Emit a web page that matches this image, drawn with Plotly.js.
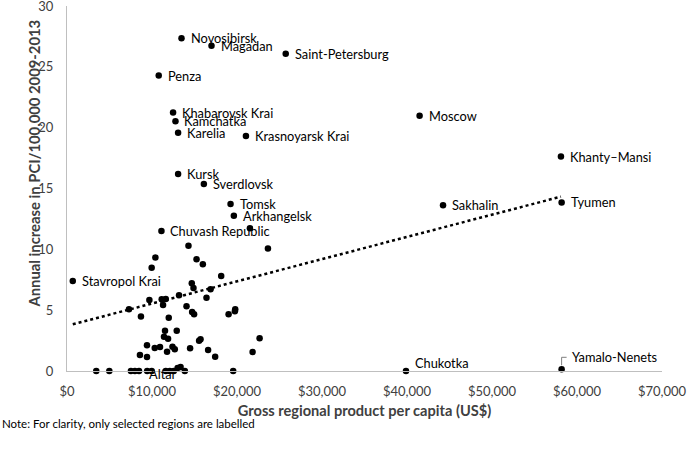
<!DOCTYPE html>
<html>
<head>
<meta charset="utf-8">
<script src="https://cdn.plot.ly/plotly-3.0.1.min.js"></script>
<style>
html,body{margin:0;padding:0;background:#fff;}
#chart{width:694px;height:459px;}
</style>
</head>
<body>
<div id="chart"></div>
<script>
// Labelled regions
const labelNames = ["Novosibirsk","Magadan","Saint-Petersburg","Penza","Khabarovsk Krai","Kamchatka","Karelia","Krasnoyarsk Krai","Moscow","Khanty\u2013Mansi","Sakhalin","Tyumen","Kursk","Sverdlovsk","Tomsk","Arkhangelsk","Chuvash Republic","Stavropol Krai","Chukotka","Yamalo-Nenets","Altai"];
const labelGRP = [13470,17000,25730,10790,12480,12760,13070,21050,41480,58110,44240,58190,13070,16100,19240,19630,11110,680,39880,58190,8470];
const labelPCI = [27.35,26.73,26.07,24.28,21.24,20.53,19.59,19.32,20.97,17.62,13.63,13.85,16.2,15.38,13.73,12.77,11.5,7.4,0,0.14,0];

// Unlabelled regions
const otherGRP = [21520,14290,23640,10400,9960,15240,15980,18140,14680,14880,16890,13180,9690,11140,11620,16410,11300,14060,7290,14720,14950,8700,11970,19790,19750,19010,11530,12910,11410,11890,22660,9410,10320,10940,12410,12680,14480,15540,15710,11770,16600,8580,9410,17430,21840,
  3440,4980,7520,7990,9430,9960,11620,12090,12560,13010,13360,13860,19550];
const otherPCI = [11.73,10.3,10.06,9.32,8.49,9.19,8.77,7.81,7.21,6.83,6.72,6.23,5.84,5.9,5.92,6.03,5.43,5.32,5.07,4.85,4.66,4.47,4.38,5.07,4.91,4.66,3.31,3.31,2.82,2.66,2.69,2.11,1.89,1.97,2.0,1.78,1.87,2.49,2.61,1.59,1.73,1.32,1.15,1.18,1.56,
  0,0,0,0,0,0,0,0,0,0.25,0.33,0,0];

// Linear trend line end points
const trendGRP = [680, 58110];
const trendPCI = [3.84, 14.33];

// Axis ticks
const xTickVals = [0,10000,20000,30000,40000,50000,60000,70000];
const xTickText = ["$0","$10,000","$20,000","$30,000","$40,000","$50,000","$60,000","$70,000"];
const yTickVals = [0,5,10,15,20,25,30];

const xTitle = "Gross regional product per capita (US$)";
const yTitle = "Annual increase in PCI/100,000 2009-2013";
const noteText = "Note: For clarity, only selected regions are labelled";

const FONT = "Lato, 'Open Sans', sans-serif";
const labelFont = {family: FONT, size: 12.8, color: "#000"};

// per-label tweaks (pixel shifts)
const labelShift = {
  "Chukotka": {dx: 7, dy: 8},
  "Altai": {dx: 8, dy: -3},
  "Yamalo-Nenets": {dx: 8, dy: 12}
};

const allX = labelGRP.concat(otherGRP);
const allY = labelPCI.concat(otherPCI);

const traces = [
  {
    x: trendGRP, y: trendPCI, type: "scatter", mode: "lines",
    line: {color: "#000", width: 2.5, dash: "dot"},
    hoverinfo: "skip", showlegend: false
  },
  {
    x: allX, y: allY, type: "scatter", mode: "markers",
    marker: {color: "#000", size: 6.5},
    cliponaxis: false, showlegend: false
  }
];

const annotations = labelNames.map((n, i) => {
  const s = labelShift[n] || {dx: 7, dy: 0};
  return {
    x: labelGRP[i], y: labelPCI[i], xref: "x", yref: "y",
    text: n, showarrow: false, xanchor: "left", yanchor: "middle",
    xshift: s.dx, yshift: s.dy, font: labelFont
  };
});
annotations.push({
  xref: "paper", yref: "paper", x: 0, y: 0, xanchor: "left", yanchor: "middle",
  text: noteText, showarrow: false,
  xshift: -67, yshift: -52,
  font: {family: FONT, size: 11.5, color: "#000"}
});
// Y axis title as rotated annotation
annotations.push({
  xref: "paper", yref: "paper", x: 0, y: 0.5, xanchor: "center", yanchor: "middle",
  text: "<b>" + yTitle + "</b>", showarrow: false, textangle: -90,
  xshift: -34, yshift: 25,
  font: {family: FONT, size: 14.8, color: "#404040"}
});

const yi = labelNames.indexOf("Yamalo-Nenets");
const shapes = [{
  type: "path", xref: "x", yref: "y",
  xsizemode: "pixel", ysizemode: "pixel",
  xanchor: labelGRP[yi], yanchor: labelPCI[yi],
  path: "M0,4 L0,12 L5,12",
  line: {color: "#7f7f7f", width: 1}
}];

const layout = {
  width: 694, height: 459,
  margin: {l: 67, r: 32, t: 6, b: 88},
  paper_bgcolor: "#fff", plot_bgcolor: "#fff",
  showlegend: false,
  xaxis: {
    range: [0, 70000], tickmode: "array", tickvals: xTickVals, ticktext: xTickText,
    showgrid: false, zeroline: false, showline: true, linecolor: "#bfbfbf", linewidth: 1,
    ticks: "", ticklabelstandoff: 8, ticklabeloverflow: "allow",
    tickfont: {family: FONT, size: 13, color: "#404040"},
    title: {text: "<b>" + xTitle + "</b>", font: {family: FONT, size: 14.6, color: "#404040"}, standoff: 8}
  },
  yaxis: {
    range: [0, 30], tickmode: "array", tickvals: yTickVals,
    showgrid: false, zeroline: false, showline: true, linecolor: "#bfbfbf", linewidth: 1,
    ticks: "", ticklabelstandoff: 10, ticklabeloverflow: "allow",
    tickfont: {family: FONT, size: 13, color: "#404040"}
  },
  annotations: annotations,
  shapes: shapes
};

Plotly.newPlot("chart", traces, layout, {displayModeBar: false, staticPlot: true});
</script>
</body>
</html>
